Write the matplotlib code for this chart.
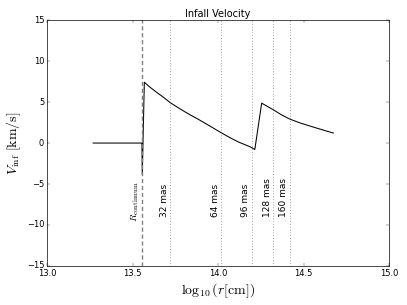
import matplotlib
matplotlib.use("Agg")
import matplotlib.pyplot as plt

plt.style.use("classic")
plt.rcParams["mathtext.fontset"] = "cm"
plt.rcParams["font.family"] = ["DejaVu Sans"]

# curve data
log_r = [13.27, 13.555, 13.557, 13.569, 13.60, 13.65, 13.68, 13.719, 13.76, 13.807,
         13.836, 13.88, 13.93, 13.96, 14.019, 14.07, 14.12, 14.16, 14.187, 14.215,
         14.255, 14.29, 14.324, 14.37, 14.42, 14.48, 14.557, 14.62, 14.674]
v_inf = [0.0, 0.0, -3.85, 7.42, 6.85, 6.05, 5.6, 4.95, 4.4, 3.8,
         3.45, 2.95, 2.35, 1.98, 1.25, 0.65, 0.12, -0.22, -0.45, -0.78,
         4.87, 4.45, 4.05, 3.45, 2.92, 2.45, 1.95, 1.55, 1.22]

r_continuum = 13.556
mas_labels = ["32 mas", "64 mas", "96 mas", "128 mas", "160 mas"]
mas_positions = [13.721, 14.019, 14.197, 14.324, 14.418]

fig = plt.figure(figsize=(8.14, 6.10), dpi=50, facecolor="white")
ax = fig.add_axes([0.1155, 0.128, 0.8405, 0.806])

ax.plot(log_r, v_inf, color="black", lw=1.5)
ax.axvline(r_continuum, color="#808080", ls="--", lw=2, dashes=(6, 4))
ax.text(r_continuum - 0.008, -9.6, r"$R_{\rm continuum}$", rotation=90,
        ha="right", va="bottom", fontsize=14)
for lab, xp in zip(mas_labels, mas_positions):
    ax.axvline(xp, color="#555555", ls=":", lw=1)
    ax.text(xp - 0.008, -9.0, lab, rotation=90, ha="right", va="bottom", fontsize=13)

ax.set_xlim(13.0, 15.0)
ax.set_ylim(-15, 15)
ax.set_xticks([13.0, 13.5, 14.0, 14.5, 15.0])
ax.set_yticks([-15, -10, -5, 0, 5, 10, 15])
ax.tick_params(labelsize=12)
ax.set_title("Infall Velocity", fontsize=14)
ax.set_xlabel(r"$\log_{10}(r[\rm cm])$", fontsize=20)
ax.set_ylabel(r"$V_{\rm inf}\ [\rm km/s]$", fontsize=20)

fig.savefig("out.png", dpi=50, facecolor="white")
